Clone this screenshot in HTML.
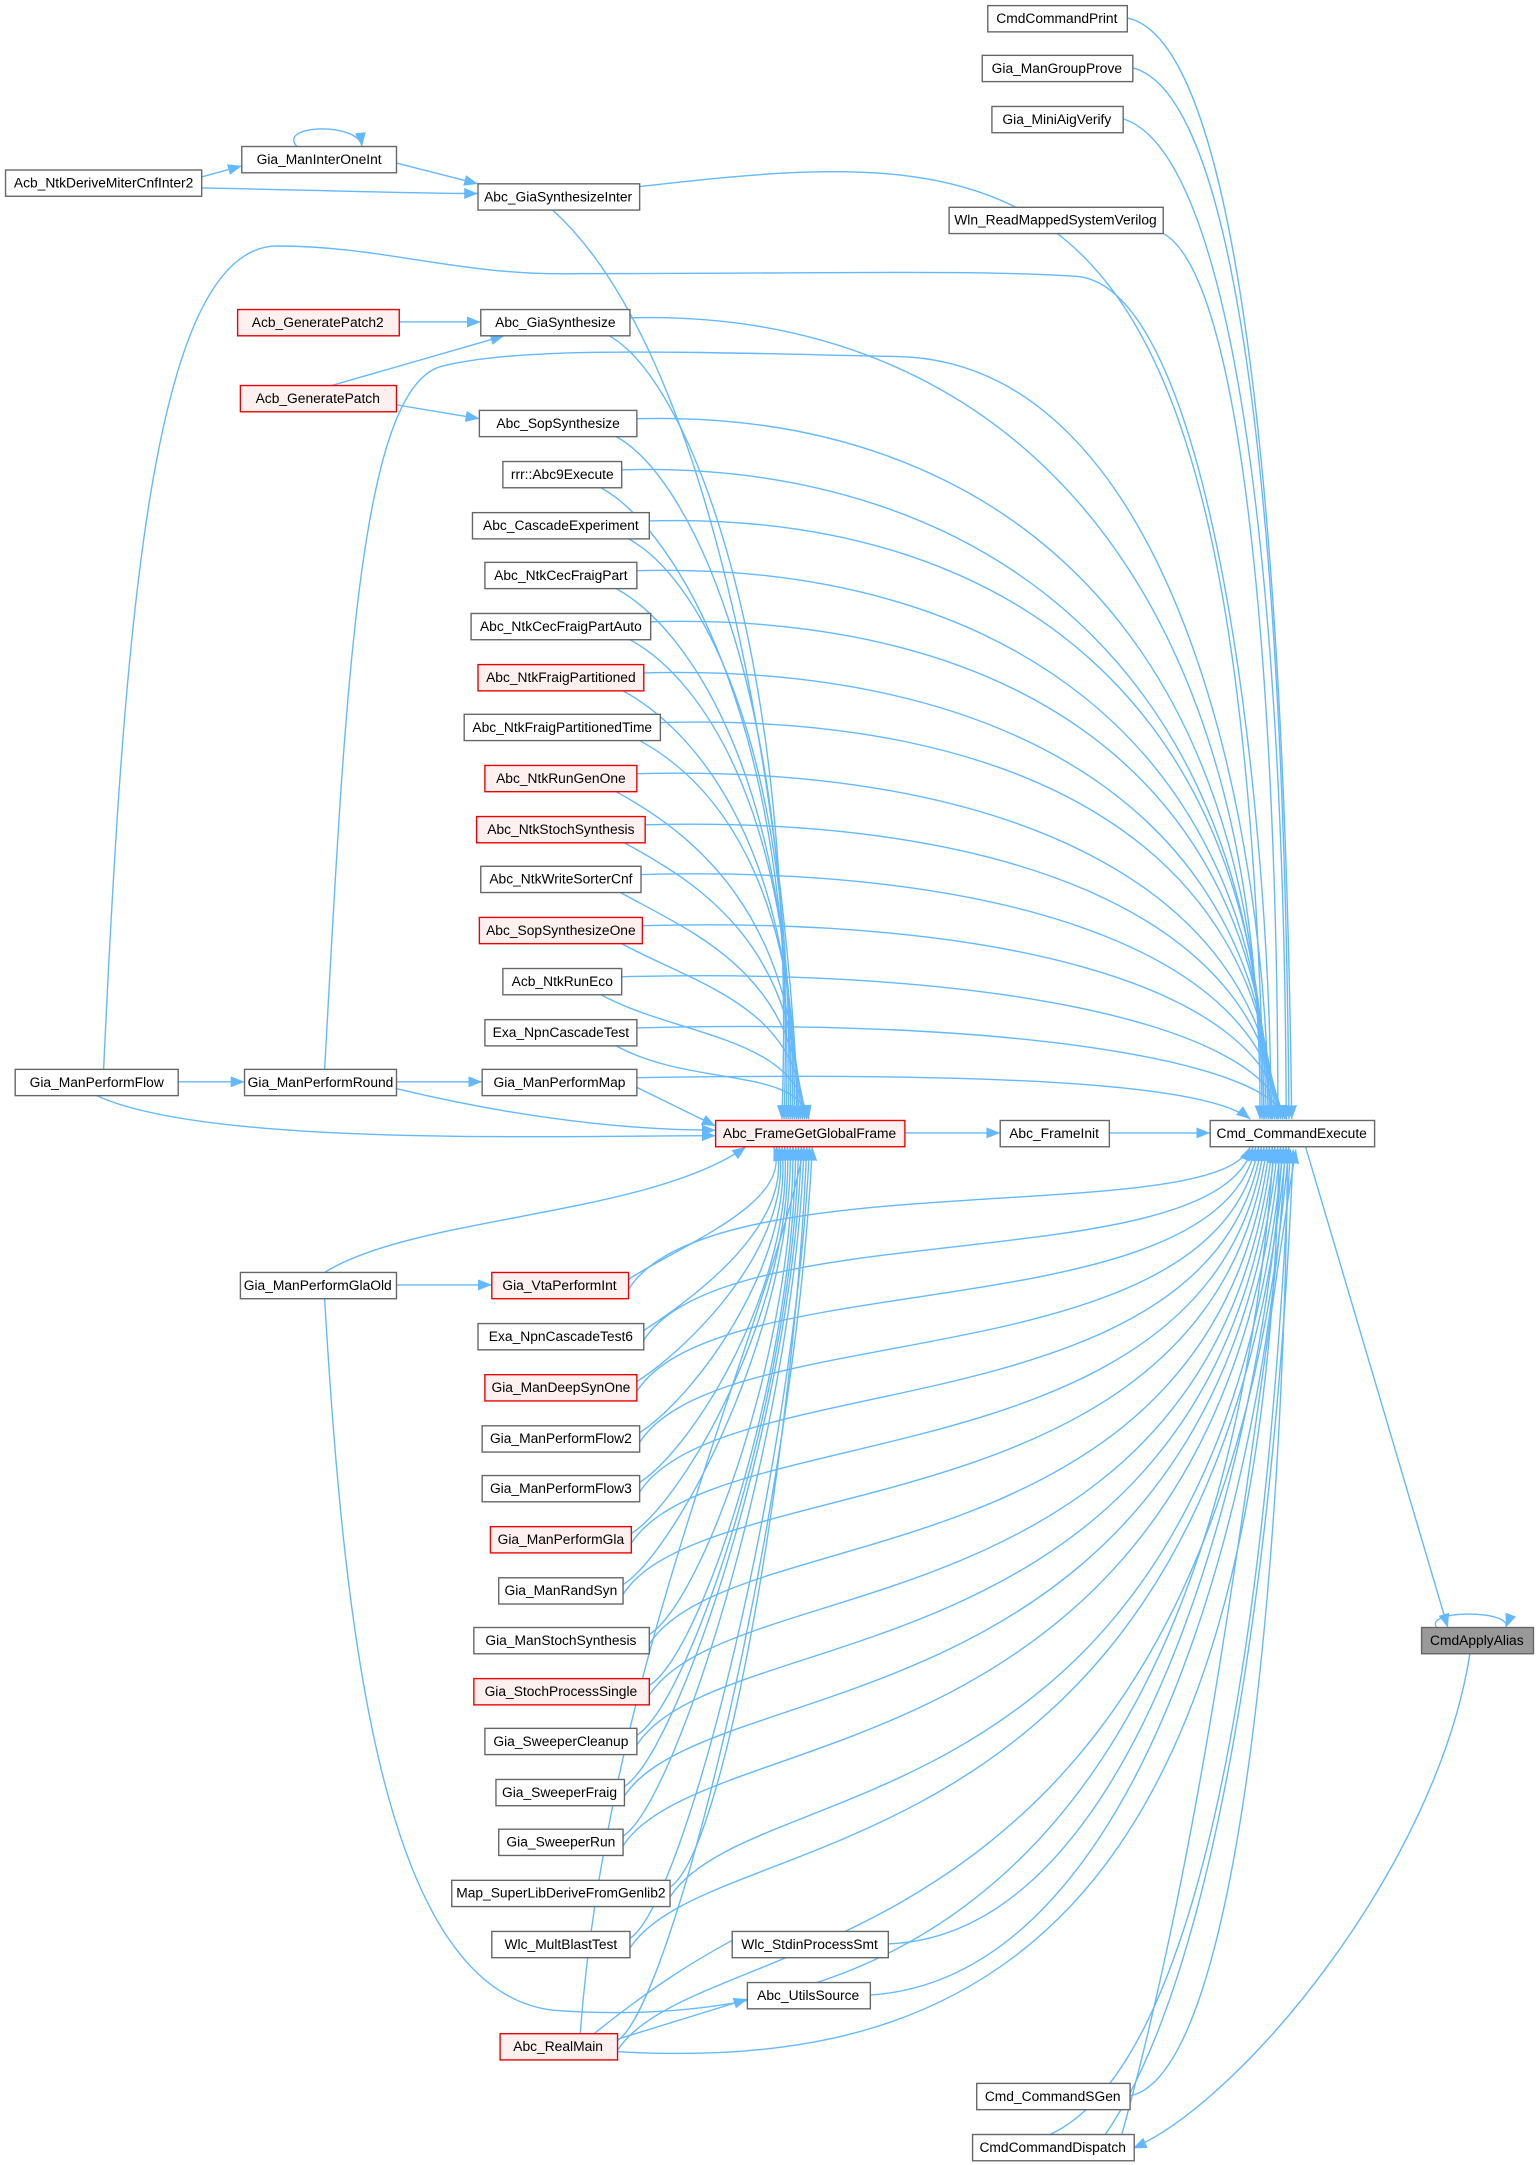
<!DOCTYPE html>
<html><head><meta charset="utf-8"><style>
html,body{margin:0;padding:0;background:#fff;width:1539px;height:2165px;overflow:hidden}
svg{display:block}
text{font-family:"Liberation Sans",Arial,sans-serif;font-size:10px;fill:#000;text-anchor:middle;dominant-baseline:central}
.n{fill:#fff;stroke:#666;stroke-width:1}
.r{fill:#fff0f0;stroke:#e00;stroke-width:1}
.g{fill:#999;stroke:#666;stroke-width:1}
#edges path{fill:none;stroke:#63b8ff;stroke-width:1}
</style></head><body>
<svg width="1539" height="2165" viewBox="0 0 1114 1567" xmlns="http://www.w3.org/2000/svg">
<defs><marker id="a" markerUnits="userSpaceOnUse" markerWidth="10" markerHeight="8" refX="10" refY="4" orient="auto"><path d="M0,0 L10,4 L0,8z" fill="#63b8ff"/></marker></defs>
<g id="edges"></g>
<g id="nodes">
<rect class="n" x="715" y="4" width="101" height="19"/><text x="765" y="13">CmdCommandPrint</text>
<rect class="n" x="711" y="40" width="109" height="19"/><text x="765" y="49">Gia_ManGroupProve</text>
<rect class="n" x="718" y="77" width="95" height="19"/><text x="765" y="86">Gia_MiniAigVerify</text>
<rect class="n" x="687" y="150" width="155" height="19"/><text x="764" y="159">Wln_ReadMappedSystemVerilog</text>
<rect class="n" x="876" y="811" width="119" height="19"/><text x="935" y="820">Cmd_CommandExecute</text>
<rect class="n" x="707" y="1508" width="111" height="19"/><text x="762" y="1517">Cmd_CommandSGen</text>
<rect class="n" x="704" y="1545" width="117" height="19"/><text x="762" y="1554">CmdCommandDispatch</text>
<rect class="g" x="1029" y="1178" width="81" height="19"/><text x="1069" y="1187">CmdApplyAlias</text>
<rect class="n" x="724" y="811" width="79" height="19"/><text x="763" y="820">Abc_FrameInit</text>
<rect class="r" x="518" y="811" width="137" height="19"/><text x="586" y="820">Abc_FrameGetGlobalFrame</text>
<rect class="n" x="4" y="123" width="142" height="19"/><text x="75" y="132">Acb_NtkDeriveMiterCnfInter2</text>
<rect class="n" x="175" y="106" width="112" height="19"/><text x="231" y="115">Gia_ManInterOneInt</text>
<rect class="n" x="346" y="133" width="117" height="19"/><text x="404" y="142">Abc_GiaSynthesizeInter</text>
<rect class="r" x="172" y="224" width="117" height="19"/><text x="230" y="233">Acb_GeneratePatch2</text>
<rect class="n" x="348" y="224" width="108" height="19"/><text x="402" y="233">Abc_GiaSynthesize</text>
<rect class="r" x="174" y="279" width="113" height="19"/><text x="230" y="288">Acb_GeneratePatch</text>
<rect class="n" x="347" y="297" width="114" height="19"/><text x="404" y="306">Abc_SopSynthesize</text>
<rect class="n" x="364" y="334" width="86" height="19"/><text x="407" y="343">rrr::Abc9Execute</text>
<rect class="n" x="342" y="371" width="128" height="19"/><text x="406" y="380">Abc_CascadeExperiment</text>
<rect class="n" x="351" y="407" width="110" height="19"/><text x="406" y="416">Abc_NtkCecFraigPart</text>
<rect class="n" x="341" y="444" width="130" height="19"/><text x="406" y="453">Abc_NtkCecFraigPartAuto</text>
<rect class="r" x="346" y="481" width="120" height="19"/><text x="406" y="490">Abc_NtkFraigPartitioned</text>
<rect class="n" x="336" y="517" width="142" height="19"/><text x="407" y="526">Abc_NtkFraigPartitionedTime</text>
<rect class="r" x="351" y="554" width="110" height="19"/><text x="406" y="563">Abc_NtkRunGenOne</text>
<rect class="r" x="345" y="591" width="122" height="19"/><text x="406" y="600">Abc_NtkStochSynthesis</text>
<rect class="n" x="348" y="627" width="116" height="19"/><text x="406" y="636">Abc_NtkWriteSorterCnf</text>
<rect class="r" x="347" y="664" width="118" height="19"/><text x="406" y="673">Abc_SopSynthesizeOne</text>
<rect class="n" x="364" y="701" width="86" height="19"/><text x="407" y="710">Acb_NtkRunEco</text>
<rect class="n" x="351" y="738" width="110" height="19"/><text x="406" y="747">Exa_NpnCascadeTest</text>
<rect class="n" x="349" y="774" width="112" height="19"/><text x="405" y="783">Gia_ManPerformMap</text>
<rect class="n" x="11" y="774" width="118" height="19"/><text x="70" y="783">Gia_ManPerformFlow</text>
<rect class="n" x="177" y="774" width="110" height="19"/><text x="232" y="783">Gia_ManPerformRound</text>
<rect class="n" x="174" y="921" width="113" height="19"/><text x="230" y="930">Gia_ManPerformGlaOld</text>
<rect class="r" x="356" y="921" width="99" height="19"/><text x="405" y="930">Gia_VtaPerformInt</text>
<rect class="n" x="346" y="958" width="120" height="19"/><text x="406" y="967">Exa_NpnCascadeTest6</text>
<rect class="r" x="351" y="995" width="110" height="19"/><text x="406" y="1004">Gia_ManDeepSynOne</text>
<rect class="n" x="349" y="1032" width="114" height="19"/><text x="406" y="1041">Gia_ManPerformFlow2</text>
<rect class="n" x="349" y="1068" width="114" height="19"/><text x="406" y="1077">Gia_ManPerformFlow3</text>
<rect class="r" x="355" y="1105" width="102" height="19"/><text x="406" y="1114">Gia_ManPerformGla</text>
<rect class="n" x="361" y="1142" width="90" height="19"/><text x="406" y="1151">Gia_ManRandSyn</text>
<rect class="n" x="343" y="1178" width="127" height="19"/><text x="406" y="1187">Gia_ManStochSynthesis</text>
<rect class="r" x="343" y="1215" width="127" height="19"/><text x="406" y="1224">Gia_StochProcessSingle</text>
<rect class="n" x="351" y="1251" width="110" height="19"/><text x="406" y="1260">Gia_SweeperCleanup</text>
<rect class="n" x="359" y="1288" width="93" height="19"/><text x="405" y="1297">Gia_SweeperFraig</text>
<rect class="n" x="361" y="1324" width="90" height="19"/><text x="406" y="1333">Gia_SweeperRun</text>
<rect class="n" x="327" y="1361" width="158" height="19"/><text x="406" y="1370">Map_SuperLibDeriveFromGenlib2</text>
<rect class="n" x="356" y="1398" width="100" height="19"/><text x="406" y="1407">Wlc_MultBlastTest</text>
<rect class="n" x="530" y="1398" width="113" height="19"/><text x="586" y="1407">Wlc_StdinProcessSmt</text>
<rect class="n" x="541" y="1435" width="89" height="19"/><text x="585" y="1444">Abc_UtilsSource</text>
<rect class="r" x="362" y="1472" width="85" height="19"/><text x="404" y="1481">Abc_RealMain</text>
</g>
</svg>
<script>
var g=document.getElementById('edges'),NS='http://www.w3.org/2000/svg';
function P(d){var p=document.createElementNS(NS,'path');p.setAttribute('d',d);p.setAttribute('marker-end','url(#a)');g.insertBefore(p,g.firstChild);}
var U=[[456,233],[461,306],[450,343],[470,380],[461,416],[471,453],[466,490],[478,526],[461,563],[467,600],[464,636],[465,673],[450,710],[461,747]];
U.forEach(function(n,i){var x=n[0],y=n[1];
 P('M'+(x-15)+','+(y+10)+' C'+(x+40)+','+(y+40)+' 578,'+(y+(810-y)*0.4)+' '+(566+i*1.5)+',810');
 P('M'+x+','+(y-3)+' C'+(x+260)+','+(y-10)+' 915,'+(y+(810-y)*0.3)+' '+(912+i*1.5)+',810');
});
P('M461,780 C780,775 880,790 905,810');P('M461,787 L518,815');
var L=[[455,930],[466,967],[461,1004],[463,1041],[463,1077],[457,1114],[451,1151],[470,1187],[470,1224],[461,1260],[452,1297],[451,1333],[485,1370],[456,1407],[447,1481]];
L.forEach(function(n,i){var x=n[0],y=n[1];
 P('M'+x+','+(y-4)+' C'+(x+40)+','+(y-30)+' 575,'+(y-(y-830)*0.6)+' '+(560+i*2)+',830');
 P('M'+x+','+(y+3)+' C'+(x+60)+','+(y-90)+' 880,'+(y-40)+' '+(905+i*2)+',830');
});
P('M146,128 L175,120');P('M146,136 C250,138 300,140 346,140');
P('M215,106 C200,90 260,88 262,106');P('M287,118 L346,133');
P('M463,135 C760,100 900,110 915,810');P('M400,152 C520,260 570,600 578,810');
P('M842,169 C900,200 925,500 925,810');
P('M816,13 C900,30 930,400 935,810');P('M820,49 C900,70 930,400 933,810');P('M813,86 C890,110 930,400 931,810');
P('M289,233 L348,233');P('M240,279 L365,243');P('M287,293 L347,303');
P('M75,774 C90,450 110,180 200,178 C280,178 330,200 420,198 C600,198 700,195 780,200 C880,210 920,600 920,810');
P('M235,774 C250,500 260,280 320,265 S500,255 650,258 C850,262 918,600 918,810');
P('M129,783 L177,783');P('M287,783 L349,783');P('M287,788 C400,815 480,818 518,818');
P('M70,793 C150,830 400,822 518,822');
P('M655,820 L724,820');P('M803,820 L876,820');
P('M287,930 L356,930');P('M235,921 C300,880 470,880 540,830');
P('M235,940 C250,1200 280,1440 400,1455 C600,1470 880,1400 922,832');
P('M643,1407 C840,1400 920,1000 928,832');P('M630,1444 C850,1430 925,1000 930,832');
P('M447,1485 C700,1500 915,1400 926,832');
P('M430,1472 C470,1440 500,1420 542,1398');P('M447,1476 L541,1447');P('M420,1472 C440,1200 560,950 582,830');
P('M818,1517 C900,1500 930,1100 932,832');
P('M760,1545 C900,1480 925,1000 934,832');P('M800,1545 C900,1400 930,1000 936,832');P('M812,1545 C880,1300 910,1000 938,832');
P('M945,830 L1048,1178');P('M1064,1197 C1040,1350 900,1520 820,1555');
P('M1040,1178 C1030,1165 1095,1165 1090,1178');
</script>
</body></html>
